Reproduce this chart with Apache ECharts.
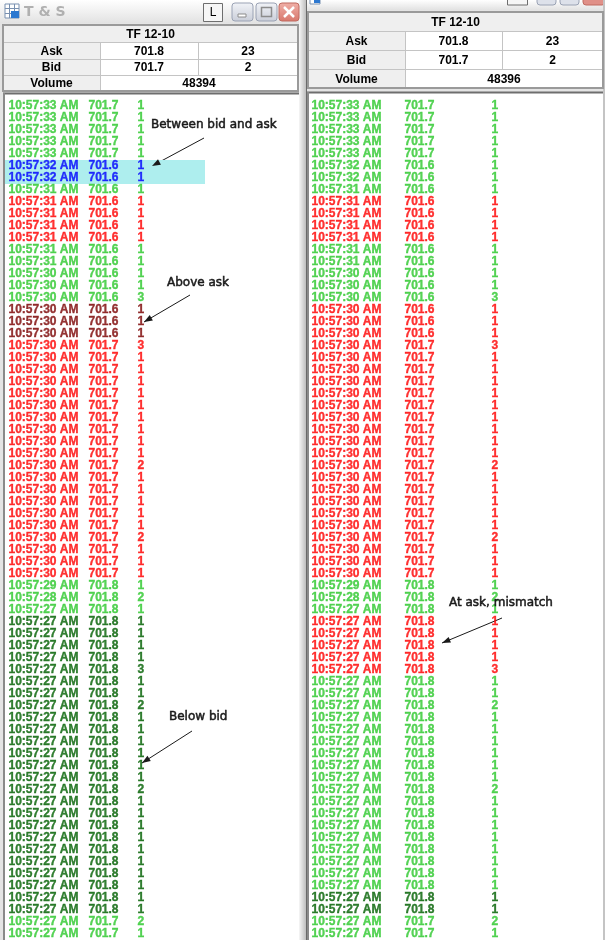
<!DOCTYPE html>
<html>
<head>
<meta charset="utf-8">
<script src="https://cdn.jsdelivr.net/npm/echarts@6/dist/echarts.min.js"></script>
<style>
  html, body { margin: 0; padding: 0; background: #fff; }
  #main { width: 605px; height: 940px; }
</style>
</head>
<body>
<div id="main"></div>
<script>
var symbolName = 'TF 12-10';
var askPrice = 701.8, askSize = 23;
var bidPrice = 701.7, bidSize = 2;
var volumes = [48394, 48396];   // left window, right window

var times = [
  '10:57:33 AM', '10:57:33 AM', '10:57:33 AM', '10:57:33 AM', '10:57:33 AM',
  '10:57:32 AM', '10:57:32 AM',
  '10:57:31 AM', '10:57:31 AM', '10:57:31 AM', '10:57:31 AM', '10:57:31 AM', '10:57:31 AM', '10:57:31 AM',
  '10:57:30 AM', '10:57:30 AM', '10:57:30 AM', '10:57:30 AM', '10:57:30 AM', '10:57:30 AM', '10:57:30 AM',
  '10:57:30 AM', '10:57:30 AM', '10:57:30 AM', '10:57:30 AM', '10:57:30 AM', '10:57:30 AM', '10:57:30 AM',
  '10:57:30 AM', '10:57:30 AM', '10:57:30 AM', '10:57:30 AM', '10:57:30 AM', '10:57:30 AM', '10:57:30 AM',
  '10:57:30 AM', '10:57:30 AM', '10:57:30 AM', '10:57:30 AM', '10:57:30 AM',
  '10:57:29 AM', '10:57:28 AM',
  '10:57:27 AM', '10:57:27 AM', '10:57:27 AM', '10:57:27 AM', '10:57:27 AM', '10:57:27 AM', '10:57:27 AM',
  '10:57:27 AM', '10:57:27 AM', '10:57:27 AM', '10:57:27 AM', '10:57:27 AM', '10:57:27 AM', '10:57:27 AM',
  '10:57:27 AM', '10:57:27 AM', '10:57:27 AM', '10:57:27 AM', '10:57:27 AM', '10:57:27 AM', '10:57:27 AM',
  '10:57:27 AM', '10:57:27 AM', '10:57:27 AM', '10:57:27 AM', '10:57:27 AM', '10:57:27 AM', '10:57:27 AM'
];

var prices = [
  701.7, 701.7, 701.7, 701.7, 701.7,
  701.6, 701.6, 701.6, 701.6, 701.6, 701.6, 701.6, 701.6, 701.6, 701.6,
  701.6, 701.6, 701.6, 701.6, 701.6,
  701.7, 701.7, 701.7, 701.7, 701.7, 701.7, 701.7, 701.7, 701.7, 701.7,
  701.7, 701.7, 701.7, 701.7, 701.7, 701.7, 701.7, 701.7, 701.7, 701.7,
  701.8, 701.8, 701.8, 701.8, 701.8, 701.8, 701.8, 701.8, 701.8, 701.8,
  701.8, 701.8, 701.8, 701.8, 701.8, 701.8, 701.8, 701.8, 701.8, 701.8,
  701.8, 701.8, 701.8, 701.8, 701.8, 701.8, 701.8, 701.8,
  701.7, 701.7
];

var sizes = [
  1, 1, 1, 1, 1, 1, 1, 1, 1, 1, 1, 1, 1, 1, 1, 1, 3, 1, 1, 1,
  3, 1, 1, 1, 1, 1, 1, 1, 1, 1, 2, 1, 1, 1, 1, 1, 2, 1, 1, 1,
  1, 2, 1, 1, 1, 1, 1, 3, 1, 1, 2, 1, 1, 1, 1, 1, 1, 2, 1, 1,
  1, 1, 1, 1, 1, 1, 1, 1, 2, 1
];

// trade classification per row: G up/at ask, R at bid, B between, D above ask, K below bid
var leftKinds = [
  'G', 'G', 'G', 'G', 'G', 'B', 'B', 'G', 'R', 'R', 'R', 'R', 'G', 'G', 'G', 'G', 'G', 'D', 'D', 'D',
  'R', 'R', 'R', 'R', 'R', 'R', 'R', 'R', 'R', 'R', 'R', 'R', 'R', 'R', 'R', 'R', 'R', 'R', 'R', 'R',
  'G', 'G', 'G', 'K', 'K', 'K', 'K', 'K', 'K', 'K', 'K', 'K', 'K', 'K', 'K', 'K', 'K', 'K', 'K', 'K',
  'K', 'K', 'K', 'K', 'K', 'K', 'K', 'K', 'G', 'G'
];
var rightKinds = [
  'G', 'G', 'G', 'G', 'G', 'G', 'G', 'G', 'R', 'R', 'R', 'R', 'G', 'G', 'G', 'G', 'G', 'R', 'R', 'R',
  'R', 'R', 'R', 'R', 'R', 'R', 'R', 'R', 'R', 'R', 'R', 'R', 'R', 'R', 'R', 'R', 'R', 'R', 'R', 'R',
  'G', 'G', 'G', 'R', 'R', 'R', 'R', 'R', 'G', 'G', 'G', 'G', 'G', 'G', 'G', 'G', 'G', 'G', 'G', 'G',
  'G', 'G', 'G', 'G', 'G', 'G', 'K', 'K', 'G', 'G'
];

var notes = ['Between bid and ask', 'Above ask', 'Below bid', 'At ask, mismatch'];

// ---- styling ----
var kindColors = { G: '#2DC82D', B: '#0000FF', R: '#FF0000', D: '#7A0000', K: '#006000' };
var rowFont = 'Liberation Sans';
var headFont = 'bold 12px "Liberation Sans"';
var noteFont = '12px "DejaVu Sans"';

var chart = echarts.init(document.getElementById('main'));

var rowIdx = times.map(function (t, i) { return i; });

// one narrow grid per text column, plus a wide one for the highlight band
var columnGrids = [
  { left: 5, width: 200 },
  { left: 8, width: 20 }, { left: 88, width: 20 }, { left: 137, width: 20 },
  { left: 311, width: 20 }, { left: 404, width: 20 }, { left: 491, width: 20 }
];

function rect(x, y, w, h, fill, stroke, lw, r) {
  return {
    type: 'rect', silent: true,
    shape: { x: x, y: y, width: w, height: h, r: r || 0 },
    style: { fill: fill, stroke: stroke || null, lineWidth: lw || 0 }
  };
}
function line(x1, y1, x2, y2, color, lw) {
  return {
    type: 'line', silent: true,
    shape: { x1: x1, y1: y1, x2: x2, y2: y2 },
    style: { stroke: color, lineWidth: lw || 1 }
  };
}
function text(str, x, y, font, fill, align, stroke) {
  return {
    type: 'text', silent: true, z: 10,
    style: {
      text: str, x: x, y: y, font: font, fill: fill || '#000',
      textAlign: align || 'center', textVerticalAlign: 'middle',
      stroke: stroke ? (fill || '#000') : null, lineWidth: stroke || 0
    }
  };
}
function arrow(x1, y1, x2, y2) {
  var a = Math.atan2(y2 - y1, x2 - x1), len = 9, spread = 0.35;
  return [
    line(x1, y1, x2, y2, '#1a1a1a', 1),
    {
      type: 'polygon', silent: true, z: 10,
      shape: { points: [
        [x2, y2],
        [x2 - len * Math.cos(a - spread), y2 - len * Math.sin(a - spread)],
        [x2 - len * Math.cos(a + spread), y2 - len * Math.sin(a + spread)]
      ] },
      style: { fill: '#1a1a1a' }
    }
  ];
}

function quoteTable(xs, ys, volume) {
  var els = [];
  var w = xs[3] - xs[0], h = ys[4] - ys[0];
  els.push(rect(xs[0], ys[0], w, h, '#EFEFEF'));
  els.push(rect(xs[1], ys[1], xs[3] - xs[1], ys[4] - ys[1], '#FFFFFF'));
  for (var i = 1; i <= 3; i++) els.push(line(xs[0], ys[i] + 0.5, xs[3], ys[i] + 0.5, '#C4C4C4', 1));
  els.push(line(xs[1] + 0.5, ys[1], xs[1] + 0.5, ys[4], '#C4C4C4', 1));
  els.push(line(xs[2] + 0.5, ys[1], xs[2] + 0.5, ys[3], '#C4C4C4', 1));
  els.push(rect(xs[0], ys[0], w, h, null, '#9A9A9A', 2));
  var mid = function (k) { return (ys[k] + ys[k + 1]) / 2 + 1; };
  var cx = function (a, b) { return (xs[a] + xs[b]) / 2; };
  els.push(text(symbolName, cx(0, 3), mid(0), headFont));
  els.push(text('Ask', cx(0, 1), mid(1), headFont));
  els.push(text(askPrice.toFixed(1), cx(1, 2), mid(1), headFont));
  els.push(text(String(askSize), cx(2, 3), mid(1), headFont));
  els.push(text('Bid', cx(0, 1), mid(2), headFont));
  els.push(text(bidPrice.toFixed(1), cx(1, 2), mid(2), headFont));
  els.push(text(String(bidSize), cx(2, 3), mid(2), headFont));
  els.push(text('Volume', cx(0, 1), mid(3), headFont));
  els.push(text(String(volume), cx(1, 3), mid(3), headFont));
  return els;
}

function titleButtons(y) {
  var btn = new echarts.graphic.LinearGradient(0, 0, 0, 1, [
    { offset: 0, color: '#F2F4F8' }, { offset: 1, color: '#C9CDD8' }
  ]);
  return [
    rect(232, y, 21, 18, btn, '#9AA2B4', 1, 3),
    rect(238, y + 11, 8, 3, '#FFFFFF', '#8C8C8C', 1),
    rect(256, y, 21, 18, btn, '#9AA2B4', 1, 3),
    rect(261.5, y + 4.5, 10, 9, null, '#8C8C8C', 1.5),
    rect(279, y, 20, 18, new echarts.graphic.LinearGradient(0, 0, 0, 1, [
      { offset: 0, color: '#F0B0A8' }, { offset: 1, color: '#D8786C' }
    ]), '#C06A60', 1, 3),
    line(284, y + 4, 294, y + 14, '#FFFFFF', 2.5),
    line(294, y + 4, 284, y + 14, '#FFFFFF', 2.5)
  ];
}

var titleFill = new echarts.graphic.LinearGradient(0, 0, 0, 1, [
  { offset: 0, color: '#FFFFFF' }, { offset: 1, color: '#E2E2E2' }
]);

var chrome = [
  rect(0, 0, 605, 940, '#E4E4E4'),
  // left window
  rect(0, 0, 303, 23, titleFill),
  rect(5, 4, 14, 14, '#FFFFFF', '#7890B0', 1),
  line(5, 8.5, 19, 8.5, '#7890B0', 1), line(5, 13.5, 19, 13.5, '#7890B0', 1),
  line(9.5, 4, 9.5, 18, '#7890B0', 1), line(14.5, 4, 14.5, 18, '#7890B0', 1),
  rect(11, 11, 8, 7, '#2C78D0'),
  text('T & S', 24, 12, 'bold 14px "DejaVu Sans"', '#B0B0B0', 'left'),
  rect(203.5, 3.5, 19, 18, '#F6F6F6', '#6E6E6E', 1),
  text('L', 213, 12.5, '12px "Liberation Sans"', '#000'),
  rect(3, 93, 296, 847, '#FFFFFF'),
  line(3, 93.5, 299, 93.5, '#6E6E6E', 2),
  line(4, 93, 4, 940, '#8A8A8A', 2),
  // frame between the two windows
  {
    type: 'rect', silent: true, shape: { x: 299, y: 0, width: 7, height: 940 },
    style: { fill: new echarts.graphic.LinearGradient(0, 0, 1, 0, [
      { offset: 0, color: '#F6F6F6' }, { offset: 1, color: '#BEBEBE' }
    ]) }
  },
  line(306.5, 0, 306.5, 940, '#6A6A6A', 1),
  // right window (title bar scrolled off the top)
  rect(307, 0, 298, 10, titleFill),
  rect(310, -6, 10, 10, '#FFFFFF', '#7890B0', 1),
  rect(314, -2, 6, 5, '#2C78D0'),
  rect(507.5, -12, 20, 17, '#F6F6F6', '#6E6E6E', 1),
  rect(537, -12, 19, 17, '#DDE1EA', '#9AA2B4', 1, 3),
  rect(560, -12, 19, 17, '#DDE1EA', '#9AA2B4', 1, 3),
  rect(583, -12, 22, 17, '#E09088', '#C06A60', 1, 3),
  rect(307, 92, 296, 848, '#FFFFFF'),
  line(307, 92.5, 603, 92.5, '#6E6E6E', 2),
  line(308, 92, 308, 940, '#8A8A8A', 2),
  rect(603, 0, 2, 940, '#C4C4C4')
];

var graphics = chrome
  .concat(titleButtons(3))
  .concat(quoteTable([3, 100, 198, 298], [25, 42, 59, 75, 91], volumes[0]))
  .concat(quoteTable([308, 405, 502, 603], [12, 31, 50, 69, 88], volumes[1]))
  .concat([
    text(notes[0], 151, 125, noteFont, '#1a1a1a', 'left', 0.5),
    text(notes[1], 167, 283, noteFont, '#1a1a1a', 'left', 0.5),
    text(notes[2], 169, 717, noteFont, '#1a1a1a', 'left', 0.5),
    text(notes[3], 449, 603, noteFont, '#1a1a1a', 'left', 0.5)
  ])
  .concat(arrow(204, 138, 152, 166))
  .concat(arrow(190, 295, 144, 322))
  .concat(arrow(192, 731, 142, 763))
  .concat(arrow(502, 618, 442, 643));

function textColumn(gridIndex, kinds, getText) {
  return {
    type: 'scatter', xAxisIndex: gridIndex, yAxisIndex: gridIndex,
    symbolSize: 1, silent: true, clip: false, z: 5,
    itemStyle: { color: 'rgba(0,0,0,0)' },
    data: rowIdx.map(function (i) {
      var c = kindColors[kinds[i]];
      return { value: [0, i], label: { color: c, textBorderColor: c } };
    }),
    label: {
      show: true, position: 'right', distance: 0,
      fontFamily: rowFont, fontWeight: 'bold', fontSize: 12,
      textBorderWidth: 0.35,
      formatter: function (p) { return getText(p.dataIndex); }
    }
  };
}
var timeText = function (i) { return times[i]; };
var priceText = function (i) { return prices[i].toFixed(1); };
var sizeText = function (i) { return String(sizes[i]); };

var option = {
  animation: false,
  backgroundColor: '#FFFFFF',
  graphic: { elements: graphics },
  grid: columnGrids.map(function (g) {
    return { left: g.left, width: g.width, top: 100, height: 840 };
  }),
  xAxis: columnGrids.map(function (g, i) {
    return { type: 'value', gridIndex: i, min: 0, max: 1, show: false };
  }),
  yAxis: columnGrids.map(function (g, i) {
    return { type: 'category', gridIndex: i, data: rowIdx, inverse: true, show: false };
  }),
  series: [
    {
      type: 'bar', xAxisIndex: 0, yAxisIndex: 0, silent: true, z: 1,
      barWidth: '100%',
      itemStyle: { color: '#AEEEEE' },
      data: leftKinds.map(function (k) { return k === 'B' ? 1 : '-'; })
    },
    textColumn(1, leftKinds, timeText),
    textColumn(2, leftKinds, priceText),
    textColumn(3, leftKinds, sizeText),
    textColumn(4, rightKinds, timeText),
    textColumn(5, rightKinds, priceText),
    textColumn(6, rightKinds, sizeText)
  ]
};

chart.setOption(option);
</script>
</body>
</html>
